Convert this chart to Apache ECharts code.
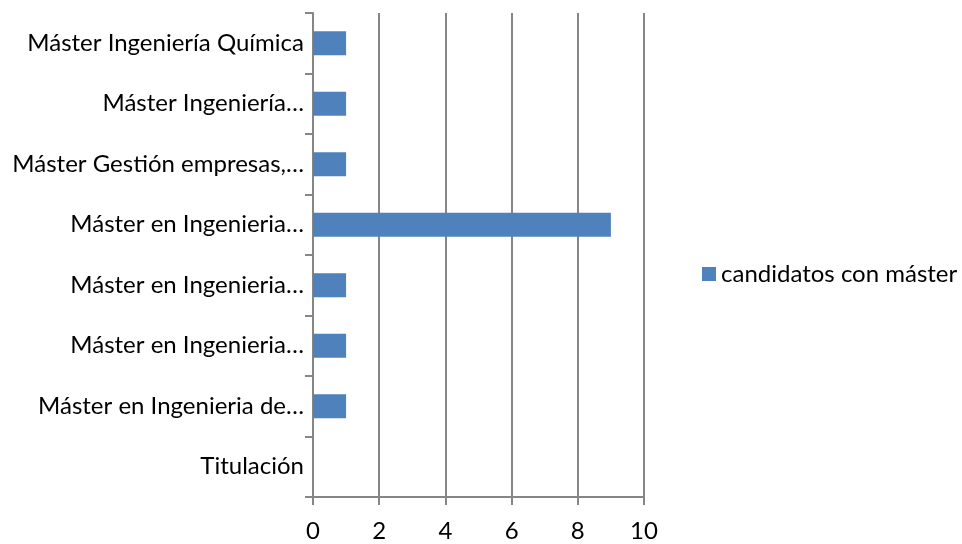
<!DOCTYPE html>
<html><head><meta charset="utf-8">
<script src="https://cdn.jsdelivr.net/npm/echarts@6/dist/echarts.min.js"></script>
<style>html,body{margin:0;padding:0;background:#fff}#c{width:962px;height:544px}</style>
</head><body><div id="c"></div>
<script>
const categories = ["Titulación","Máster en Ingenieria de…","Máster en Ingenieria…","Máster en Ingenieria…","Máster en Ingenieria…","Máster Gestión empresas,…","Máster Ingeniería…","Máster Ingeniería Química"];
const values = [null,1,1,1,9,1,1,1];
const seriesName = "candidatos con máster";
const xTicks = [0,2,4,6,8,10];
const chart = echarts.init(document.getElementById('c'));
chart.setOption({
  animation:false,
  textStyle:{fontFamily:'Lato'},
  grid:{left:313,top:13,width:331,height:484,containLabel:false},
  legend:{data:[seriesName],left:697,top:257,itemWidth:14,itemHeight:14,itemGap:6,icon:'rect',
    textStyle:{fontSize:24,color:'#000',fontFamily:'Lato'}},
  xAxis:{type:'value',min:xTicks[0],max:xTicks[xTicks.length-1],interval:2,
    axisLine:{show:true,lineStyle:{color:'#868686',width:2}},
    axisTick:{show:true,length:8,lineStyle:{color:'#868686',width:2}},
    splitLine:{show:true,lineStyle:{color:'#868686',width:2}},
    axisLabel:{fontSize:24,color:'#000',margin:22,fontFamily:'Lato'}},
  yAxis:{type:'category',data:categories,
    axisLine:{show:true,lineStyle:{color:'#868686',width:2}},
    axisTick:{show:true,length:8,lineStyle:{color:'#868686',width:2}},
    axisLabel:{fontSize:24,color:'#000',margin:9,fontFamily:'Lato'}},
  series:[{name:seriesName,type:'bar',data:values,barWidth:24,itemStyle:{color:'#4F81BD'}}]
});
</script></body></html>
